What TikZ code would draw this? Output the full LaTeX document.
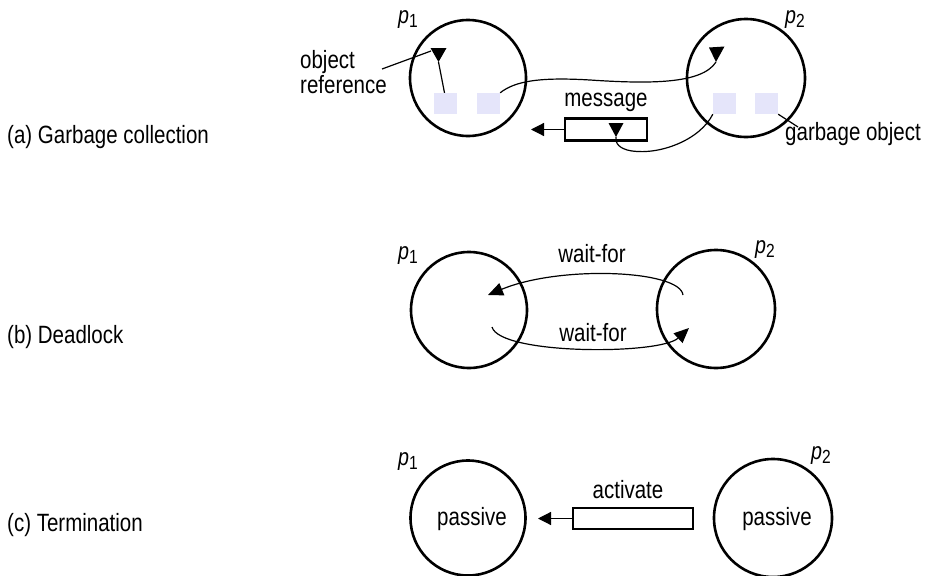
\documentclass[tikz,border=0pt]{standalone}
\usepackage{fontspec}
\setmainfont{Liberation Sans}[FakeStretch=0.82]
\usetikzlibrary{arrows.meta}
\begin{document}
\begin{tikzpicture}[x=1pt,y=-1pt,
  every node/.style={font=\fontsize{25}{27}\selectfont, inner sep=0pt},
  proc/.style={draw, circle, line width=2.6pt},
  obj/.style={fill=lavender, minimum width=23pt, minimum height=21pt},
  msgbox/.style={draw, line width=2.3pt, minimum width=82pt, minimum height=22pt},
  thin/.style={line width=1.2pt},
  tip/.style={-{Triangle[length=13pt,width=13pt]}},
  wtip/.style={-{Triangle[length=15pt,width=13pt]}},
  plabel/.style={font=\fontsize{24}{26}\selectfont}
]
\definecolor{lavender}{RGB}{229,229,250}
\useasboundingbox (0,0) rectangle (930,576);
\newcommand{\pl}[1]{\textit{p}\raisebox{-4pt}{\fontsize{19}{20}\selectfont #1}}

% ---------- (a) Garbage collection ----------
\node[anchor=base west] (la) at (7,143) {(a) Garbage collection};
\node[proc, minimum size=116pt] (a1) at (468,78) {};
\node[proc, minimum size=118pt] (a2) at (746,78) {};
\node[plabel] (a1l) at (408,20) {\pl{1}};
\node[plabel] (a2l) at (795,20) {\pl{2}};
\node[obj] (s11) at (445.5,103.5) {};
\node[obj] (s12) at (488.5,103.5) {};
\node[obj] (s21) at (724.5,103.5) {};
\node[obj] (s22) at (766.5,103.5) {};

\node[anchor=base west] (or1) at (300,68) {object};
\node[anchor=base west] (or2) at (300,93) {reference};
\coordinate (orend) at (431,51);
\draw[thin] (382,69) -- (orend);

% reference inside p1
\coordinate (r1t) at (438.5,62);
\draw[thin] (s11.north) ++(-1,0) -- (r1t);
\fill (r1t) -- (430.5,48) -- (446.5,48) -- cycle;

% reference from p1 to p2
\coordinate (r2t) at (716,62);
\draw[thin] (s12.north east) .. controls (515,81) and (540,77) .. (590,80)
   .. controls (650,84) and (702,84) .. (r2t);
\fill (r2t) -- (709,47.5) -- (724.5,46.5) -- cycle;

% message
\node[msgbox] (msg) at (606,129.5) {};
\node[anchor=base] (msgl) at (606,106) {message};
\coordinate (msgarr) at (531,129.5);
\draw[thin, tip] (msg.west) -- (msgarr);
\coordinate (r3t) at (616,137);
\draw[thin] (s21.south west) .. controls (700,140) and (660,155) .. (632,151)
   .. controls (619,149) and (615,143) .. (r3t);
\fill (r3t) -- (608.5,123) -- (623.5,123) -- cycle;

% garbage object
\node[anchor=base west] (gl) at (785,140) {garbage object};
\draw[thin] (s22.south east) -- (798,127);

% ---------- (b) Deadlock ----------
\node[anchor=base west] (lb) at (7,343) {(b) Deadlock};
\node[proc, minimum size=116pt] (b1) at (469,310) {};
\node[proc, minimum size=118pt] (b2) at (716,309) {};
\node[plabel] (b1l) at (408,256) {\pl{1}};
\node[plabel] (b2l) at (765,250) {\pl{2}};
\coordinate (bu1) at (683,295);
\coordinate (bu2) at (488,295);
\draw[thin, wtip] (bu1) .. controls (680,270) and (560,265) .. (bu2);
\coordinate (bl1) at (492,327);
\coordinate (bl2) at (689,328);
\draw[thin, wtip] (bl1) .. controls (500,355) and (660,355) .. (bl2);
\node[anchor=base] (wf1) at (592,262) {wait-for};
\node[anchor=base] (wf2) at (593,341) {wait-for};

% ---------- (c) Termination ----------
\node[anchor=base west] (lc) at (7,531) {(c) Termination};
\node[proc, minimum size=115pt] (c1) at (468,518) {};
\node[proc, minimum size=118pt] (c2) at (773,518) {};
\node[plabel] (c1l) at (408,462) {\pl{1}};
\node[plabel] (c2l) at (821,456) {\pl{2}};
\node[anchor=base] (pa1) at (472,525) {passive};
\node[anchor=base] (pa2) at (777,525) {passive};
\node[msgbox, minimum width=120pt, minimum height=21pt] (act) at (633,518.5) {};
\node[anchor=base] (actl) at (628,498) {activate};
\coordinate (actarr) at (538,518.5);
\draw[thin, tip] (act.west) -- (actarr);
\end{tikzpicture}
\end{document}
